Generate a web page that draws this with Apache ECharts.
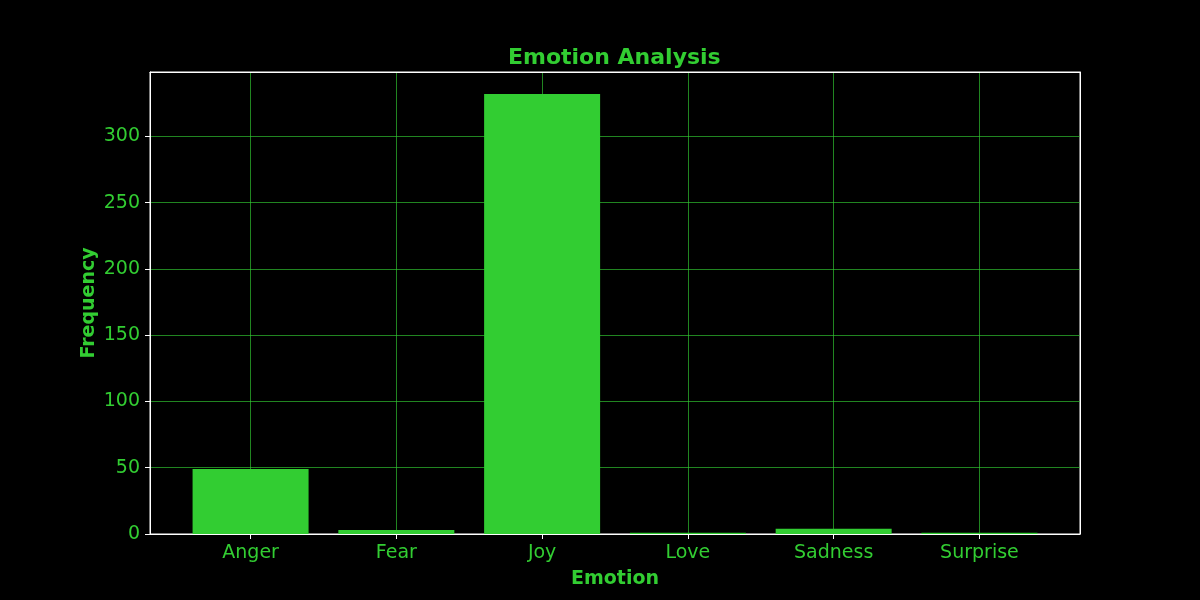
<!DOCTYPE html>
<html>
<head>
    <meta charset="utf-8">
    <title>Emotion Analysis</title>
    <script src="https://cdn.jsdelivr.net/npm/echarts@6/dist/echarts.min.js"></script>
    <style>
        html, body { margin: 0; padding: 0; background: #000; }
        #chartmain { width: 1200px; height: 600px; }
    </style>
</head>
<body>
    <div id="chartmain"></div>
<script type="text/javascript">
    // 数据
    var emotions = ['Anger', 'Fear', 'Joy', 'Love', 'Sadness', 'Surprise'];
    var counts = [49, 3, 332, 1, 4, 1];
    var yTicks = [0, 50, 100, 150, 200, 250, 300];

    var green = '#32CD32';
    var font = 'DejaVu Sans';
    var positions = emotions.map(function (e, i) { return i; });
    var gridLine = { show: true, lineStyle: { color: 'rgba(50,205,50,0.65)', width: 1 } };

    var myChart = echarts.init(document.getElementById('chartmain'));
    myChart.setOption({
        backgroundColor: '#000',
        animation: false,
        title: {
            text: 'Emotion Analysis',
            left: 503, top: 42,
            textStyle: { color: green, fontFamily: font, fontSize: 22, fontWeight: 'bold' }
        },
        grid: {
            left: 150, right: 120, top: 72, bottom: 66,
            show: true, borderColor: '#fff', borderWidth: 1, backgroundColor: '#000'
        },
        xAxis: [{
            type: 'value',
            min: -0.69, max: 5.69,
            name: 'Emotion', nameLocation: 'middle', nameGap: 36,
            nameTextStyle: { color: green, fontFamily: font, fontSize: 19, fontWeight: 'bold' },
            axisLine: { show: true, onZero: false, lineStyle: { color: '#fff' } },
            axisTick: { show: true, length: 5, customValues: positions, lineStyle: { color: '#fff' } },
            axisLabel: {
                customValues: positions, color: green, fontFamily: font, fontSize: 19, margin: 10,
                formatter: function (v) { return emotions[Math.round(v)]; }
            },
            splitLine: gridLine
        }, {
            // 上边框
            type: 'value', position: 'top',
            min: -0.69, max: 5.69,
            axisLine: { show: true, onZero: false, lineStyle: { color: '#fff' } },
            axisTick: { show: false }, axisLabel: { show: false }, splitLine: { show: false }
        }],
        yAxis: [{
            type: 'value',
            min: 0, max: 348.6, interval: 50,
            name: 'Frequency', nameLocation: 'middle', nameGap: 51, nameMoveOverlap: false,
            nameTextStyle: { color: green, fontFamily: font, fontSize: 19, fontWeight: 'bold' },
            axisLine: { show: true, onZero: false, lineStyle: { color: '#fff' } },
            axisTick: { show: true, length: 5, lineStyle: { color: '#fff' } },
            axisLabel: {
                color: green, fontFamily: font, fontSize: 19, margin: 10, showMaxLabel: false,
                formatter: function (v) { return yTicks.indexOf(v) >= 0 ? String(v) : ''; }
            },
            splitLine: gridLine
        }, {
            // 右边框
            type: 'value', position: 'right',
            min: 0, max: 348.6,
            axisLine: { show: true, onZero: false, lineStyle: { color: '#fff' } },
            axisTick: { show: false }, axisLabel: { show: false }, splitLine: { show: false }
        }],
        series: [{
            type: 'bar',
            barWidth: 116,
            itemStyle: { color: green },
            data: counts.map(function (c, i) { return [i, c]; })
        }]
    });
</script>
</body>
</html>
